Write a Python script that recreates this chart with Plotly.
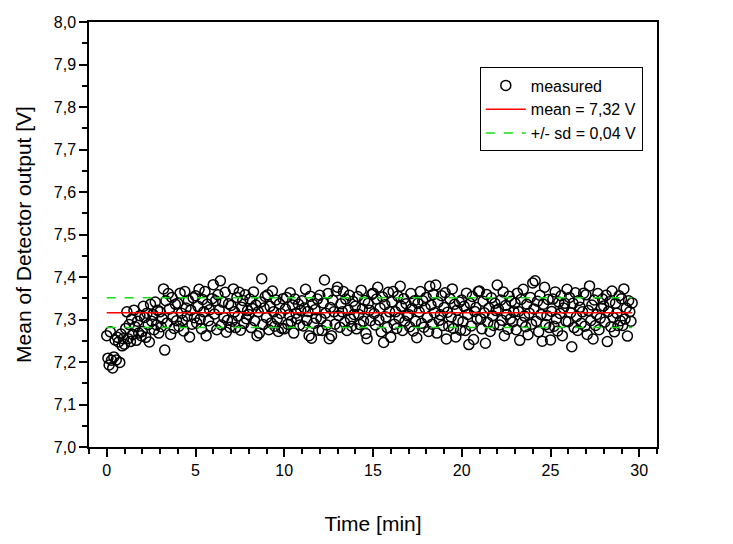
import plotly.graph_objects as go

# Detector readout, one sample every 4 s
SAMPLE_INTERVAL_S = 4
detector_v = [
    7.262, 7.209, 7.193, 7.271, 7.204, 7.186, 7.212, 7.252, 7.205, 7.258, 7.247, 7.199, 7.266, 7.238, 7.255,
    7.242, 7.279, 7.318, 7.255, 7.288, 7.248, 7.301, 7.265, 7.322, 7.283, 7.251, 7.296, 7.268, 7.309, 7.262,
    7.272, 7.331, 7.305, 7.258, 7.315, 7.288, 7.247, 7.336, 7.296, 7.312, 7.276, 7.341, 7.287, 7.322, 7.268,
    7.318, 7.283, 7.302, 7.372, 7.228, 7.344, 7.292, 7.361, 7.325, 7.265, 7.352, 7.306, 7.279, 7.336, 7.297,
    7.338, 7.284, 7.362, 7.315, 7.298, 7.273, 7.366, 7.327, 7.308, 7.345, 7.259, 7.322, 7.289, 7.351, 7.304,
    7.356, 7.292, 7.331, 7.371, 7.301, 7.278, 7.347, 7.318, 7.366, 7.262, 7.336, 7.297, 7.323, 7.284, 7.349,
    7.382, 7.313, 7.344, 7.276, 7.358, 7.323, 7.391, 7.287, 7.341, 7.305, 7.364, 7.270, 7.298, 7.337, 7.282,
    7.333, 7.296, 7.372, 7.318, 7.281, 7.352, 7.308, 7.364, 7.275, 7.329, 7.345, 7.291, 7.358, 7.302, 7.321,
    7.312, 7.348, 7.281, 7.326, 7.365, 7.297, 7.334, 7.262, 7.318, 7.268, 7.341, 7.396, 7.288, 7.327, 7.354,
    7.305, 7.358, 7.276, 7.331, 7.292, 7.367, 7.318, 7.284, 7.346, 7.301, 7.272, 7.337, 7.314, 7.279, 7.349,
    7.278, 7.325, 7.352, 7.289, 7.311, 7.363, 7.296, 7.334, 7.268, 7.348, 7.315, 7.302, 7.336, 7.287, 7.321,
    7.344, 7.285, 7.327, 7.371, 7.298, 7.319, 7.262, 7.355, 7.256, 7.336, 7.291, 7.323, 7.303, 7.348, 7.275,
    7.357, 7.302, 7.274, 7.339, 7.393, 7.315, 7.287, 7.361, 7.255, 7.328, 7.262, 7.346, 7.318, 7.289, 7.367,
    7.376, 7.309, 7.282, 7.337, 7.318, 7.366, 7.293, 7.348, 7.274, 7.322, 7.357, 7.301, 7.284, 7.343, 7.312,
    7.331, 7.278, 7.354, 7.312, 7.288, 7.369, 7.325, 7.296, 7.345, 7.267, 7.255, 7.338, 7.322, 7.297, 7.359,
    7.362, 7.314, 7.287, 7.348, 7.376, 7.299, 7.327, 7.271, 7.353, 7.246, 7.335, 7.306, 7.281, 7.364, 7.318,
    7.258, 7.342, 7.366, 7.289, 7.318, 7.279, 7.355, 7.303, 7.378, 7.331, 7.274, 7.349, 7.296, 7.337, 7.309,
    7.312, 7.283, 7.361, 7.326, 7.273, 7.344, 7.296, 7.257, 7.338, 7.318, 7.366, 7.291, 7.344, 7.282, 7.327,
    7.352, 7.305, 7.272, 7.378, 7.334, 7.289, 7.359, 7.316, 7.381, 7.268, 7.341, 7.298, 7.311, 7.356, 7.286,
    7.328, 7.363, 7.254, 7.317, 7.284, 7.349, 7.306, 7.372, 7.279, 7.336, 7.259, 7.322, 7.298, 7.341, 7.275,
    7.346, 7.295, 7.331, 7.274, 7.362, 7.312, 7.241, 7.338, 7.285, 7.354, 7.253, 7.319, 7.328, 7.301, 7.366,
    7.367, 7.302, 7.278, 7.343, 7.316, 7.244, 7.359, 7.293, 7.327, 7.272, 7.351, 7.309, 7.286, 7.338, 7.321,
    7.381, 7.324, 7.287, 7.346, 7.298, 7.365, 7.262, 7.333, 7.312, 7.277, 7.355, 7.301, 7.343, 7.294, 7.318,
    7.338, 7.276, 7.362, 7.319, 7.251, 7.347, 7.293, 7.371, 7.308, 7.283, 7.336, 7.264, 7.315, 7.352, 7.289,
    7.386, 7.325, 7.391, 7.296, 7.343, 7.271, 7.357, 7.312, 7.249, 7.336, 7.376, 7.288, 7.309, 7.347, 7.281,
    7.252, 7.319, 7.348, 7.284, 7.365, 7.302, 7.273, 7.341, 7.314, 7.356, 7.262, 7.327, 7.338, 7.296, 7.371,
    7.295, 7.352, 7.316, 7.236, 7.338, 7.281, 7.363, 7.307, 7.274, 7.345, 7.329, 7.291, 7.318, 7.362, 7.284,
    7.358, 7.265, 7.321, 7.379, 7.297, 7.334, 7.254, 7.346, 7.286, 7.312, 7.361, 7.276, 7.303, 7.327, 7.348,
    7.332, 7.294, 7.357, 7.248, 7.319, 7.342, 7.283, 7.367, 7.305, 7.271, 7.338, 7.315, 7.286, 7.356, 7.297,
    7.349, 7.286, 7.372, 7.301, 7.327, 7.261, 7.344, 7.318, 7.296, 7.339,
]
time_min = [i * SAMPLE_INTERVAL_S / 60 for i in range(len(detector_v))]

MEAN_V = 7.316
SD_V = 0.035

x_ticks = [0, 5, 10, 15, 20, 25, 30]
y_ticks = [7.0, 7.1, 7.2, 7.3, 7.4, 7.5, 7.6, 7.7, 7.8, 7.9, 8.0]

t_start, t_end = time_min[0], time_min[-1]

fig = go.Figure()

fig.add_trace(go.Scatter(
    x=time_min, y=detector_v, mode='markers', name='measured',
    marker=dict(symbol='circle-open', size=10, color='black', line=dict(width=1.5))
))

fig.add_trace(go.Scatter(
    x=[t_start, t_end], y=[MEAN_V, MEAN_V], mode='lines',
    name='mean = 7,32 V', line=dict(color='red', width=1.5)
))

# upper and lower sd band in one trace
fig.add_trace(go.Scatter(
    x=[t_start, t_end, None, t_start, t_end],
    y=[MEAN_V + SD_V, MEAN_V + SD_V, None, MEAN_V - SD_V, MEAN_V - SD_V],
    mode='lines', name='+/- sd = 0,04 V',
    line=dict(color='#11e011', width=1.5, dash='dash')
))

axis_common = dict(
    showline=True, linecolor='black', linewidth=1.5, mirror=True,
    ticks='outside', ticklen=8, tickwidth=1.5, tickcolor='black',
    showgrid=False, zeroline=False, automargin=False,
    tickfont=dict(family='Liberation Sans, Arial', size=16, color='black'),
)

fig.update_layout(
    width=733, height=544,
    margin=dict(l=81, r=84, t=14, b=105),
    paper_bgcolor='white', plot_bgcolor='white',
    separators=', ',
    font=dict(family='Liberation Sans, Arial', color='black'),
    xaxis=dict(
        range=[-1, 31], tickvals=x_ticks,
        minor=dict(dtick=1, ticks='outside', ticklen=5, tickwidth=1.5, tickcolor='black'),
        title=dict(text='Time [min]', font=dict(size=21), standoff=38),
        **axis_common
    ),
    yaxis=dict(
        range=[7.0, 8.0], tickvals=y_ticks, tickformat='.1f',
        minor=dict(dtick=0.05, ticks='outside', ticklen=5, tickwidth=1.5, tickcolor='black'),
        title=dict(text='Mean of Detector output [V]', font=dict(size=21), standoff=16),
        **axis_common
    ),
    legend=dict(
        x=0.975, y=0.893, xanchor='right', yanchor='top',
        bgcolor='white', bordercolor='black', borderwidth=1,
        font=dict(size=16), itemwidth=40, tracegroupgap=0,
    ),
)

fig.write_html("out.html")
